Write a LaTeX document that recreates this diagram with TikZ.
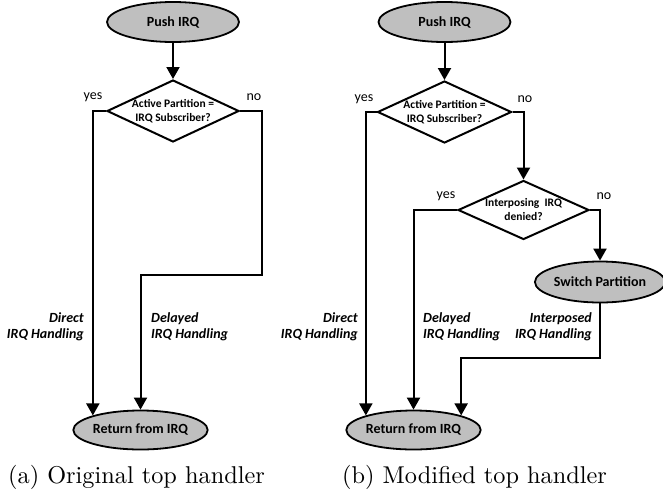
\documentclass[tikz,border=0pt]{standalone}
\usepackage{fontspec}
\newfontfamily\carl{Carlito}
\newfontfamily\capfont{lmroman10-regular.otf}
\usetikzlibrary{shapes.geometric,arrows.meta}
\definecolor{ellgray}{RGB}{191,191,191}
\tikzset{
  line/.style={line width=2pt},
  arr/.style={line, -{Triangle[width=13pt,length=12pt]}},
  term/.style={ellipse, draw, line width=1.8pt, fill=ellgray, inner sep=0pt,
    font=\carl\bfseries\fontsize{14}{16}\selectfont},
  dec/.style={diamond, draw, line width=2pt, inner sep=0pt},
  dtext/.style={font=\carl\bfseries\fontsize{11.5}{14}\selectfont, align=center},
  yn/.style={font=\carl\fontsize{14}{16}\selectfont, inner sep=0pt},
  handl/.style={font=\carl\bfseries\itshape\fontsize{14}{16}\selectfont, inner sep=0pt},
  captxt/.style={font=\capfont\fontsize{24.3}{28}\selectfont, inner sep=0pt, anchor=base},
}
\begin{document}
\begin{tikzpicture}[x=1pt,y=-1pt]
\useasboundingbox (0,0) rectangle (663,490);
% ---------- (a) ----------
\node[term, minimum width=132pt, minimum height=40pt] (push1) at (173,22) {Push IRQ};
\node[dec, minimum width=132pt, minimum height=62pt,
  label={[dtext]center:{Active Partition =\\IRQ Subscriber?}}] (d1) at (173,111) {};
\node[term, minimum width=133pt, minimum height=39pt] (ret1) at (140.5,430) {Return from IRQ};
\draw[arr] (push1.south) -- (d1.north);
\draw[arr] (d1.west) -| (ret1.163);
\draw[arr] (d1.east) -| (262,275) -| (ret1.north);
\node[yn] (y1) at (93,97) {yes};
\node[yn] (n1) at (254,97) {no};
\node[handl, anchor=east, align=right] (h1) at (84,327) {Direct\\IRQ Handling};
\node[handl, anchor=west, align=left] (h2) at (151,327) {Delayed\\IRQ Handling};
\node[captxt] (ca) at (136.5,483) {(a) Original top handler};
% ---------- (b) ----------
\node[term, minimum width=132pt, minimum height=40pt] (push2) at (444.5,22) {Push IRQ};
\node[dec, minimum width=134pt, minimum height=62pt,
  label={[dtext]center:{Active Partition =\\IRQ Subscriber?}}] (d2) at (444.5,112) {};
\node[dec, minimum width=131pt, minimum height=59pt,
  label={[dtext]center:{Interposing\ \ IRQ\\denied?}}] (d3) at (523.5,210) {};
\node[term, minimum width=128pt, minimum height=41pt] (sw) at (600,282) {Switch Partition};
\node[term, minimum width=133pt, minimum height=39pt] (ret2) at (413.5,430) {Return from IRQ};
\draw[arr] (push2.south) -- (d2.north);
\draw[arr] (d2.west) -| (ret2.163);
\draw[arr] (d2.east) -| (d3.north);
\draw[arr] (d3.west) -| (ret2.north);
\draw[arr] (d3.east) -| (sw.north);
\draw[arr] (sw.south) -- ++(0,55) -| (ret2.17);
\node[yn] (y2) at (364,99) {yes};
\node[yn] (n2) at (525,99) {no};
\node[yn] (y3) at (446,196) {yes};
\node[yn] (n3) at (604,196) {no};
\node[handl, anchor=east, align=right] (h3) at (358,327) {Direct\\IRQ Handling};
\node[handl, anchor=west, align=left] (h4) at (423,327) {Delayed\\IRQ Handling};
\node[handl, anchor=east, align=right] (h5) at (592,327) {Interposed\\IRQ Handling};
\node[captxt] (cb) at (474.5,483) {(b) Modified top handler};
\end{tikzpicture}
\end{document}
